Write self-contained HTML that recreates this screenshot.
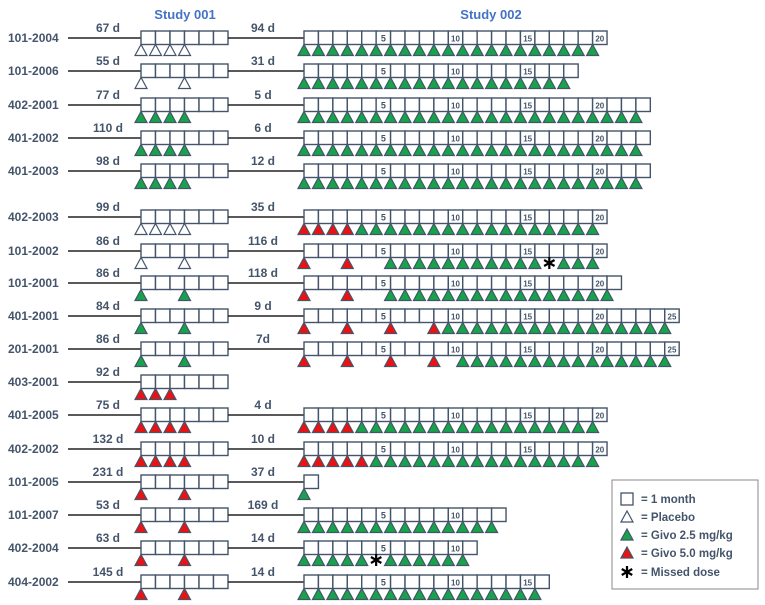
<!DOCTYPE html>
<html><head><meta charset="utf-8"><style>
html,body{margin:0;padding:0;background:#fff;}
svg{display:block;font-family:"Liberation Sans",sans-serif;}
</style></head><body>
<svg id="c" width="765" height="605"></svg>
<script>
const patients=["101-2004","101-2006","402-2001","401-2002","401-2003","402-2003","101-2002","101-2001","401-2001","201-2001","403-2001","401-2005","402-2002","101-2005","101-2007","402-2004","404-2002"];
const rowY=[38,71,105,138,171,217,251,283,316,349,382,415,449,482,515,548,582];
const gap1=["67 d","55 d","77 d","110 d","98 d","99 d","86 d","86 d","84 d","86 d","92 d","75 d","132 d","231 d","53 d","63 d","145 d"];
const gap2=["94 d","31 d","5 d","6 d","12 d","35 d","116 d","118 d","9 d","7d","","4 d","10 d","37 d","169 d","14 d","14 d"];
const s1=["PPPP","P..P","GGGG","GGGG","GGGG","PPPP","P..P","G..G","G..G","G..G","RRR","RRRR","RRRR","R..R","R..R","R..R","R..R"];
const s2=[
"GGGGGGGGGGGGGGGGGGGGG",
"GGGGGGGGGGGGGGGGGGG",
"GGGGGGGGGGGGGGGGGGGGGGGG",
"GGGGGGGGGGGGGGGGGGGGGGGG",
"GGGGGGGGGGGGGGGGGGGGGGGG",
"RRRRGGGGGGGGGGGGGGGGG",
"R..R..GGGGGGGGGGG*GGG",
"R..R..GGGGGGGGGGGGGGGG",
"R..R..R..RGGGGGGGGGGGGGGGG",
"R..R..R..R.GGGGGGGGGGGGGGG",
"",
"RRRRGGGGGGGGGGGGGGGGG",
"RRRRRGGGGGGGGGGGGGGGG",
"G",
"GGGGGGGGGGGGGG",
"GGGGG*GGGGGG",
"GGGGGGGGGGGGGGGGG"];
const numIdx=[5,10,15,20,25];
const W=14.43, X1=141, X2=304, W1=14.5;
const ns="http://www.w3.org/2000/svg";
const svg=document.getElementById('c');
const slate="#44546a", green="#16a34a", red="#ee1111";
function mk(t,a,p){const e=document.createElementNS(ns,t);for(const k in a)e.setAttribute(k,a[k]);(p||svg).appendChild(e);return e;}
function tri(cx,y,kind,g){const col=kind==='P'?'#fff':kind==='G'?green:red;
 const t=mk('polygon',{points:`${cx-6},${y+11} ${cx+6},${y+11} ${cx},${y}`,fill:col,stroke:slate,'stroke-width':1.2},g);
 
 }
function star(cx,cy,g){const s=mk('g',{stroke:'#000','stroke-width':2.2},g);
 
 
 const r=6;
 mk('line',{x1:cx,y1:cy-r,x2:cx,y2:cy+r},s);
 mk('line',{x1:cx-r*0.87,y1:cy-r*0.5,x2:cx+r*0.87,y2:cy+r*0.5},s);
 mk('line',{x1:cx-r*0.87,y1:cy+r*0.5,x2:cx+r*0.87,y2:cy-r*0.5},s);}
let t=mk('text',{x:185,y:19,'text-anchor':'middle','font-size':13,'font-weight':'bold',fill:'#4472c4'});t.textContent='Study 001';

t=mk('text',{x:491,y:19,'text-anchor':'middle','font-size':13,'font-weight':'bold',fill:'#4472c4'});t.textContent='Study 002';

patients.forEach((p,i)=>{
 const y=rowY[i];
 const g=mk('g',{});
 
 
 let l=mk('text',{x:8,y:y+4,'font-size':12,'font-weight':'bold',fill:slate},g);l.textContent=p;
 
 mk('line',{x1:68,y1:y,x2:X1,y2:y,stroke:'#222','stroke-width':1.6},g);
 l=mk('text',{x:108,y:y-6,'text-anchor':'middle','font-size':12,'font-weight':'bold',fill:slate},g);l.textContent=gap1[i];
 
 for(let b=0;b<6;b++){const r=mk('rect',{x:X1+b*W1,y:y-7,width:W1,height:13.5,fill:'#fff',stroke:slate,'stroke-width':1.4},g);
  }
 [...s1[i]].forEach((k,b)=>{if(k!=='.')tri(X1+b*W1,y+6.5,k,g);});
 const n=s2[i].length;
 if(n>0){
  mk('line',{x1:X1+6*W1,y1:y,x2:X2,y2:y,stroke:'#222','stroke-width':1.6},g);
  l=mk('text',{x:263,y:y-6,'text-anchor':'middle','font-size':12,'font-weight':'bold',fill:slate},g);l.textContent=gap2[i];
  
  for(let b=0;b<n;b++){const r=mk('rect',{x:X2+b*W,y:y-7,width:W,height:13.5,fill:'#fff',stroke:slate,'stroke-width':1.4},g);
   
   if(numIdx.includes(b)){const tx=mk('text',{x:X2+b*W+W/2,y:y+3.5,'text-anchor':'middle','font-size':b<10?9:8,'font-weight':'bold',fill:slate},g);tx.textContent=b;
    }}
  [...s2[i]].forEach((k,b)=>{const cx=X2+b*W;if(k==='*')star(cx,y+12,g);else if(k!=='.')tri(cx,y+6.5,k,g);});
 }
});
const lg=mk('g',{});


mk('rect',{x:612,y:480,width:146,height:109,fill:'#fff',stroke:'#8a8a8a','stroke-width':1},lg);
mk('rect',{x:621,y:493,width:12,height:12,fill:'#fff',stroke:slate,'stroke-width':1.3},lg);
tri(627,511,'P',lg);tri(627,529,'G',lg);tri(627,547,'R',lg);
star(627,572,lg);
const lt=["= 1 month","= Placebo","= Givo 2.5 mg/kg","= Givo 5.0 mg/kg","= Missed dose"];
const ly=[503,521,539,557,576];
lt.forEach((s,i)=>{const e=mk('text',{x:641,y:ly[i],'font-size':11.5,'font-weight':'bold',fill:slate},lg);e.textContent=s;
 });
</script>
</body></html>
